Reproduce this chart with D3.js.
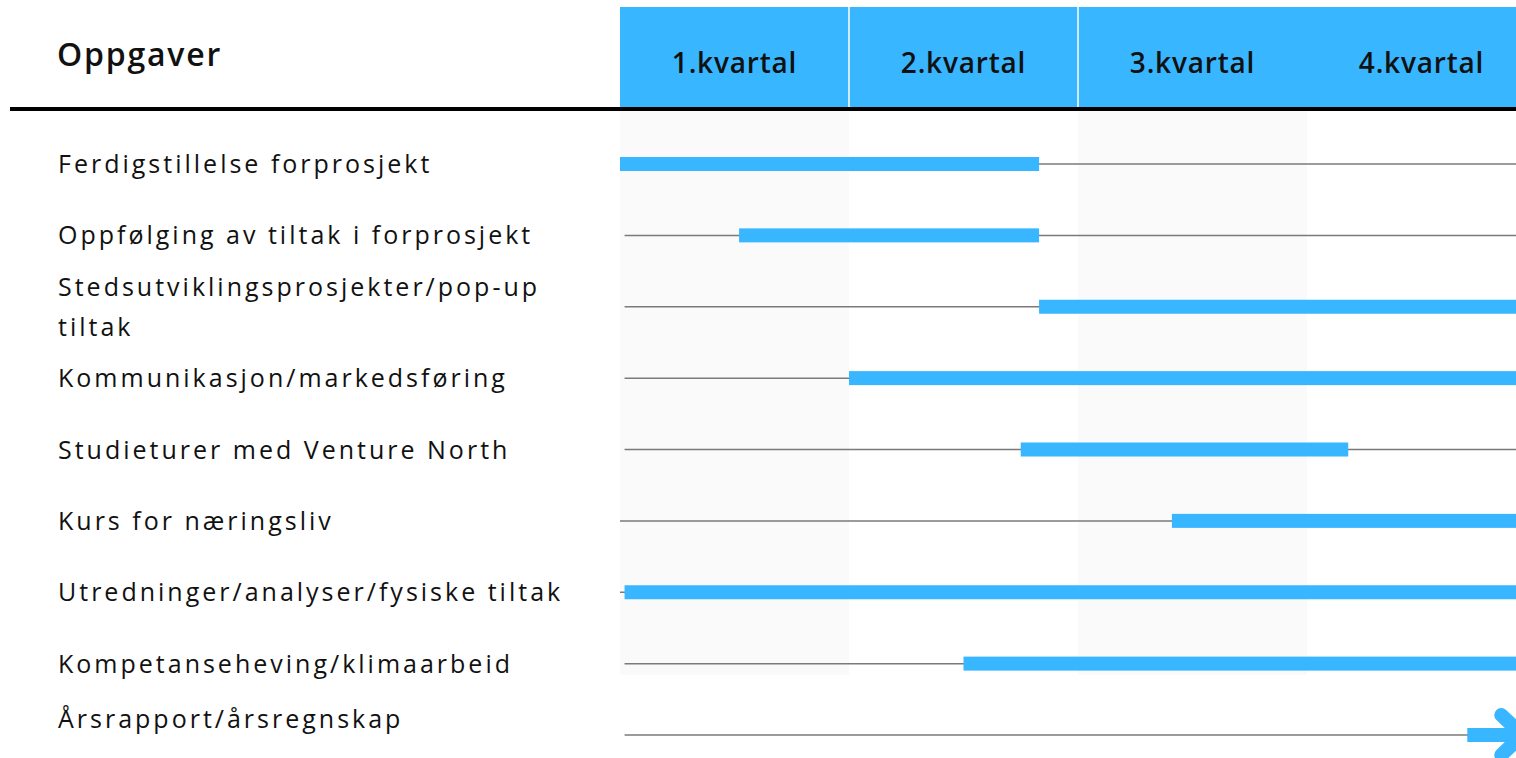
<!DOCTYPE html>
<html><head><meta charset="utf-8">
<script src="https://cdn.jsdelivr.net/npm/d3@7/dist/d3.min.js"></script>
<style>
html,body{margin:0;padding:0;background:#fff;overflow:hidden;}
</style></head>
<body>
<svg id="chart" width="1516" height="758"></svg>
<script>
const quarters = ["1.kvartal","2.kvartal","3.kvartal","4.kvartal"];
const shadedQuarters = [0, 2];
const tasks = [
  "Ferdigstillelse forprosjekt",
  "Oppfølging av tiltak i forprosjekt",
  "Stedsutviklingsprosjekter/pop-up|tiltak",
  "Kommunikasjon/markedsføring",
  "Studieturer med Venture North",
  "Kurs for næringsliv",
  "Utredninger/analyser/fysiske tiltak",
  "Kompetanseheving/klimaarbeid",
  "Årsrapport/årsregnskap"
];
// start / end of each task, in quarters (0 = start of 1.kvartal, 4 = end of 4.kvartal)
const taskStart = [0.00, 0.52, 1.83, 1.00, 1.75, 2.41, 0.02, 1.50, 3.70];
const taskEnd   = [1.83, 1.83, 4.00, 4.00, 3.18, 4.00, 4.00, 4.00, 3.94];
const lineStart = [0.00, 0.02, 0.02, 0.02, 0.02, 0.00, 0.00, 0.02, 0.02];
const isArrow   = [false,false,false,false,false,false,false,false,true];
const labelShift = [0,0,0,0,0,0,0,0,-16];

const BLUE = "#38b6ff";
const svg = d3.select("#chart");
const W = 1516;

const x = d3.scaleLinear().domain([0, 4]).range([620, 1536]);
const y = d3.scalePoint().domain(d3.range(tasks.length)).range([164, 735]);

// shaded quarter columns
svg.selectAll("rect.shade").data(shadedQuarters).enter().append("rect")
  .attr("x", d => x(d)).attr("width", d => x(d + 1) - x(d))
  .attr("y", 110).attr("height", 565)
  .attr("fill", "#fafafa");

// header band
svg.append("rect").attr("x", x(0)).attr("y", 7).attr("width", W - x(0)).attr("height", 101).attr("fill", BLUE);
svg.selectAll("line.div").data([1, 2]).enter().append("line")
  .attr("x1", d => x(d)).attr("x2", d => x(d)).attr("y1", 7).attr("y2", 108)
  .attr("stroke", "#ffffff").attr("stroke-width", 1.5);
svg.selectAll("text.q").data(quarters).enter().append("text")
  .attr("x", (d, i) => x(i + 0.5)).attr("y", 73)
  .attr("text-anchor", "middle")
  .attr("font-family", "Open Sans").attr("font-weight", 600).attr("font-size", 28)
  .attr("letter-spacing", "0.8px")
  .attr("fill", "#111")
  .text(d => d);

svg.append("text").attr("x", 57).attr("y", 66)
  .attr("font-family", "Open Sans").attr("font-weight", 600).attr("font-size", 32)
  .attr("letter-spacing", "1.8px")
  .attr("fill", "#111").text("Oppgaver");

svg.append("line").attr("x1", 10).attr("x2", W).attr("y1", 109).attr("y2", 109)
  .attr("stroke", "#000").attr("stroke-width", 4);

// rows
const rows = svg.selectAll("g.row").data(tasks).enter().append("g").attr("class", "row");

rows.append("line")
  .attr("x1", (d, i) => x(lineStart[i])).attr("x2", W)
  .attr("y1", (d, i) => y(i)).attr("y2", (d, i) => y(i))
  .attr("stroke", "#7a7a7a").attr("stroke-width", 1.5);

rows.filter((d, i) => !isArrow[i]).append("rect")
  .attr("x", d => x(taskStart[tasks.indexOf(d)]))
  .attr("width", d => { const i = tasks.indexOf(d); return x(taskEnd[i]) - x(taskStart[i]); })
  .attr("y", d => y(tasks.indexOf(d)) - 7).attr("height", 14)
  .attr("fill", BLUE);

// arrow
rows.filter((d, i) => isArrow[i]).each(function(d) {
  const i = tasks.indexOf(d);
  const g = d3.select(this);
  const yy = y(i), x0 = x(taskStart[i]), xt = x(taskEnd[i]);
  g.append("rect").attr("x", x0).attr("y", yy - 7).attr("width", xt - x0).attr("height", 14).attr("fill", BLUE);
  g.append("path")
    .attr("d", d3.line()([[xt - 21, yy - 20], [xt, yy], [xt - 21, yy + 20]]))
    .attr("fill", "none").attr("stroke", BLUE).attr("stroke-width", 14)
    .attr("stroke-linecap", "round").attr("stroke-linejoin", "round");
});

// labels
rows.each(function(d, i) {
  const parts = d.split("|");
  const t = d3.select(this).append("text")
    .attr("x", 58)
    .attr("font-family", "Open Sans").attr("font-size", 25)
    .attr("letter-spacing", "3px")
    .attr("fill", "#111");
  const lh = 40;
  const y0 = y(i) + labelShift[i] - (parts.length - 1) * lh / 2 + 9;
  parts.forEach((p, k) => {
    t.append("tspan").attr("x", 58).attr("y", y0 + k * lh).text(p);
  });
});
</script>
</body></html>
